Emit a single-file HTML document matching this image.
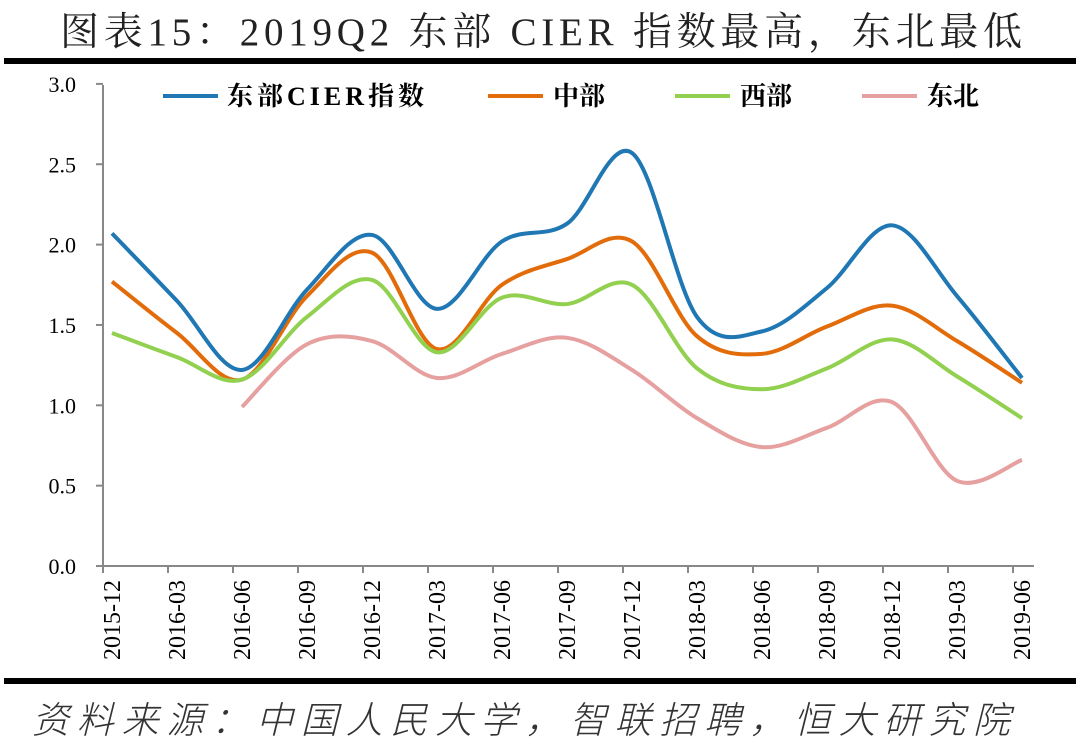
<!DOCTYPE html>
<html><head><meta charset="utf-8"><style>
body{margin:0;background:#fff;width:1080px;height:750px;overflow:hidden;font-family:"Liberation Serif","Noto Serif CJK SC",serif}
</style></head><body>
<svg id="s" width="1080" height="750" xmlns="http://www.w3.org/2000/svg">
<text x="60" y="45" textLength="962" lengthAdjust="spacing" font-size="39" font-family="Liberation Serif, Noto Serif CJK SC, serif" fill="#222">图表15：2019Q2 东部 CIER 指数最高，东北最低</text>
<rect x="4" y="58" width="1072" height="6" fill="#000"/>
<rect x="4" y="678" width="1072" height="6" fill="#000"/>
<text x="32" y="733" textLength="978" lengthAdjust="spacing" font-size="37" font-style="italic" font-family="Noto Sans CJK SC, serif" font-weight="300" fill="#333">资料来源：中国人民大学，智联招聘，恒大研究院</text>
<g id="ax" stroke="#888" stroke-width="2"></g>
<g id="lbl" font-size="22" fill="#000"></g>
<g id="ser" fill="none" stroke-width="4"></g>
<g font-size="26" font-weight="bold" font-family="Liberation Serif, Noto Serif CJK SC, serif">
<line x1="163" y1="96" x2="218" y2="96" stroke="#1f77b4" stroke-width="4"/><text x="227" y="105" textLength="197" lengthAdjust="spacing">东部CIER指数</text>
<line x1="488" y1="96" x2="543" y2="96" stroke="#e36c0a" stroke-width="4"/><text x="553" y="105">中部</text>
<line x1="675" y1="96" x2="730" y2="96" stroke="#92d050" stroke-width="4"/><text x="740" y="105">西部</text>
<line x1="862" y1="96" x2="917" y2="96" stroke="#e6a0a0" stroke-width="4"/><text x="927" y="105">东北</text>
</g>
</svg>
<script>
var NS="http://www.w3.org/2000/svg";
function el(p,t,a,txt){var e=document.createElementNS(NS,t);for(var k in a)e.setAttribute(k,a[k]);if(txt)e.textContent=txt;document.getElementById(p).appendChild(e);}
var y0=566,sc=160.7,x0=103,dx=65;
el("ax","line",{x1:103,y1:85,x2:103,y2:567});
el("ax","line",{x1:96,y1:566,x2:1034,y2:566});
for(var i=0;i<=6;i++){var y=y0-i*0.5*sc;el("ax","line",{x1:96,y1:y,x2:103,y2:y});
el("lbl","text",{x:76,y:y+8,"text-anchor":"end"},(i*0.5).toFixed(1));}
var L=["2015-12","2016-03","2016-06","2016-09","2016-12","2017-03","2017-06","2017-09","2017-12","2018-03","2018-06","2018-09","2018-12","2019-03","2019-06"];
for(var i=0;i<15;i++){var x=x0+i*dx;el("ax","line",{x1:x,y1:566,x2:x,y2:573});
el("lbl","text",{x:0,y:0,"text-anchor":"end","font-size":24,transform:"translate("+(x+17)+",580) rotate(-90)"},L[i]);}
function path(v,st,c){var p=[];for(var i=0;i<v.length;i++)p.push([x0+9+(i+st)*dx,y0-v[i]*sc]);
var d="M"+p[0][0]+","+p[0][1];for(var i=0;i<p.length-1;i++){var a=p[i>0?i-1:i],b=p[i],q=p[i+1],r=p[i+2<p.length?i+2:i+1];
d+=" C"+(b[0]+(q[0]-a[0])/6)+","+(b[1]+(q[1]-a[1])/6)+" "+(q[0]-(r[0]-b[0])/6)+","+(q[1]-(r[1]-b[1])/6)+" "+q[0]+","+q[1];}
el("ser","path",{d:d,stroke:c});}
path([1.77,1.45,1.16,1.68,1.95,1.35,1.75,1.91,2.02,1.43,1.32,1.49,1.62,1.40,1.14],0,"#e36c0a");
path([1.45,1.30,1.16,1.55,1.78,1.33,1.67,1.63,1.75,1.23,1.10,1.23,1.41,1.18,0.92],0,"#92d050");
path([0.99,1.38,1.40,1.17,1.32,1.42,1.22,0.92,0.74,0.86,1.02,0.53,0.66],2,"#e6a0a0");
path([2.07,1.65,1.22,1.72,2.06,1.60,2.02,2.13,2.57,1.55,1.46,1.73,2.12,1.68,1.17],0,"#1f77b4");
</script>
</body></html>
